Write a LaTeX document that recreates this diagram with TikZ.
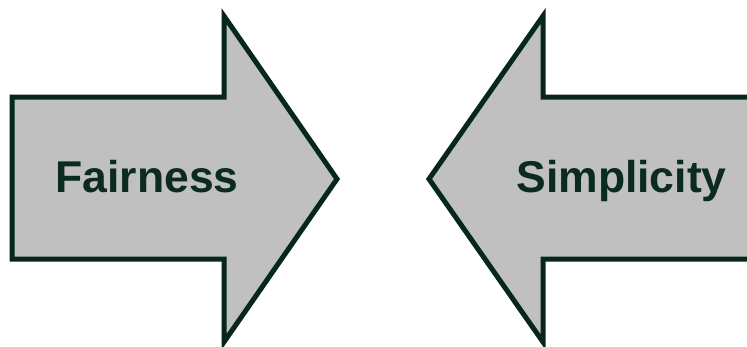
\documentclass[tikz,border=0pt]{standalone}
\usepackage{fontspec}
\setmainfont{Liberation Sans}
\definecolor{edgecol}{HTML}{06261E}
\definecolor{fillcol}{HTML}{C0C0C0}
\definecolor{textcol}{HTML}{0A2A22}
\begin{document}
\begin{tikzpicture}[x=1pt,y=-1pt,
  arrowshape/.style={draw=edgecol,fill=fillcol,line width=5pt,line join=miter,miter limit=10},
  label/.style={text=textcol,font=\fontsize{44.5}{50}\selectfont\bfseries,inner sep=0pt,anchor=base}]
\useasboundingbox (0,0) rectangle (747,346);
\draw[arrowshape] (12,97) -- (224,97) -- (224,16) -- (337,179) -- (224,342) -- (224,259) -- (12,259) -- cycle;
\draw[arrowshape] (760,97) -- (543,97) -- (543,16) -- (429,179) -- (543,342) -- (543,259) -- (760,259);
\node[label] (fair) at (147,192.5) {Fairness};
\node[label] (simp) at (621.5,192.5) {Simplicity};
\end{tikzpicture}
\end{document}
